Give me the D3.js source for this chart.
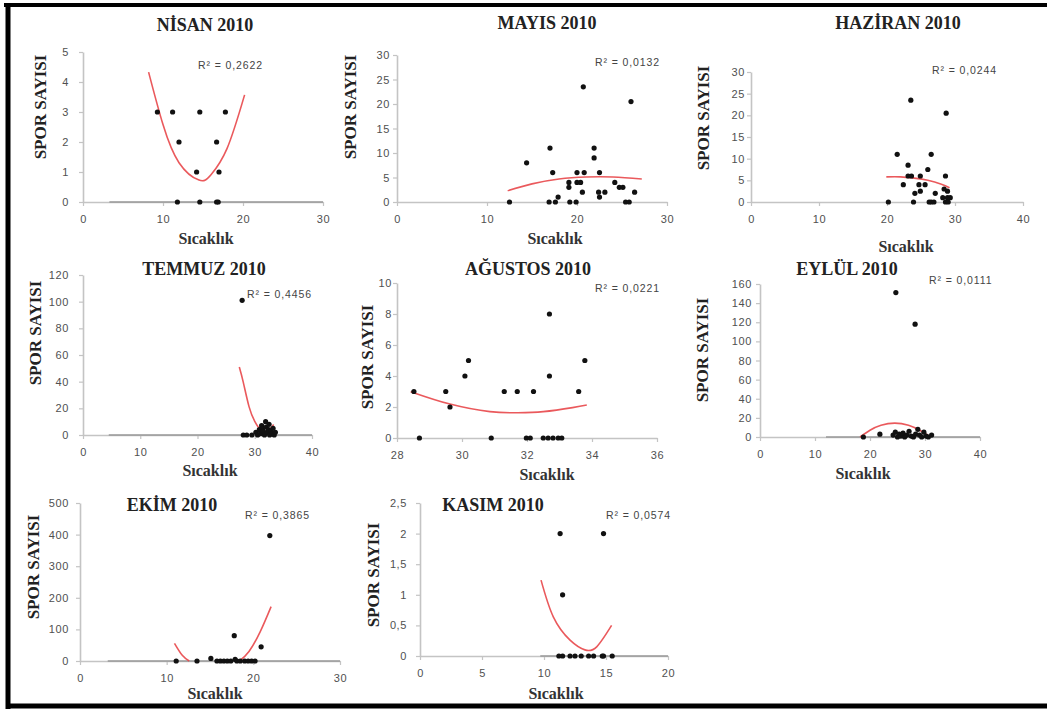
<!DOCTYPE html>
<html>
<head>
<meta charset="utf-8">
<script src="https://cdn.jsdelivr.net/npm/d3@7"></script>
<style>
  body { margin: 0; background: #fff; }
  svg { display: block; }
</style>
</head>
<body>
<svg id="chart" width="1047" height="713"></svg>
<script>
// Monthly scatter plots: spore count vs. temperature, with 2nd-order trend lines.
const months = ["NİSAN 2010", "MAYIS 2010", "HAZİRAN 2010", "TEMMUZ 2010",
                "AĞUSTOS 2010", "EYLÜL 2010", "EKİM 2010", "KASIM 2010"];
const r2Labels = ["R² = 0,2622", "R² = 0,0132", "R² = 0,0244", "R² = 0,4456",
                  "R² = 0,0221", "R² = 0,0111", "R² = 0,3865", "R² = 0,0574"];
const yLabel = "SPOR SAYISI";
const xLabel = "Sıcaklık";

const xTickValues = [
  [0, 10, 20, 30], [0, 10, 20, 30], [0, 10, 20, 30, 40], [0, 10, 20, 30, 40],
  [28, 30, 32, 34, 36], [0, 10, 20, 30, 40], [0, 10, 20, 30], [0, 5, 10, 15, 20]
];
const yTickValues = [
  [0, 1, 2, 3, 4, 5], [0, 5, 10, 15, 20, 25, 30], [0, 5, 10, 15, 20, 25, 30],
  [0, 20, 40, 60, 80, 100, 120], [0, 2, 4, 6, 8, 10],
  [0, 20, 40, 60, 80, 100, 120, 140, 160], [0, 100, 200, 300, 400, 500],
  [0, 0.5, 1, 1.5, 2, 2.5]
];

// [temperature, spore count]
const nisanPoints = [[9.3,3],[11.2,3],[14.6,3],[17.8,3],[12.0,2],[16.7,2],[14.2,1],[17.0,1],
  [11.8,0],[14.6,0],[16.7,0],[16.9,0]];
const mayisPoints = [[12.5,0],[14.4,8],[17.0,11],[17.3,6],[16.9,0],[17.6,0],[17.9,1],[19.1,3],
  [19.1,4],[19.2,0],[19.9,0],[20.0,4],[20.4,4],[20.0,6],[20.8,6],[20.7,23.5],[20.6,2],[21.9,11],
  [21.9,9],[22.5,6],[22.4,2],[23.1,2],[22.5,1],[24.2,4],[24.7,3],[25.1,3],[25.4,0],[25.8,0],
  [26.0,20.5],[26.4,2]];
const haziranPoints = [[20.2,0],[21.5,11],[22.4,4],[23.1,8.5],[23.1,6],[23.6,6],[23.5,23.5],
  [23.9,0],[24.1,2],[24.7,4],[24.9,2.5],[24.9,6],[25.6,4],[26.0,7.5],[26.5,11],[26.2,0],
  [26.5,0],[26.9,0],[27.1,2],[28.6,6],[28.7,20.5],[28.4,3],[28.9,2.5],[28.2,1],[28.9,1],
  [29.3,1],[28.6,0],[29.0,0]];
const temmuzPoints = [[27.8,101],[28.0,0],[28.6,0],[29.5,0],[30.2,2],[30.5,0],[30.8,4],[31.0,1],
  [31.2,7],[31.3,5],[31.5,3],[31.7,0],[31.9,10],[32.0,6],[32.2,2],[32.4,4],[32.5,8],[32.6,0],
  [32.8,3],[33.0,1],[33.2,5],[33.4,0],[33.6,2]];
const agustosPoints = [[28.52,3],[28.69,0],[29.5,3],[29.63,2],[30.09,4],[30.2,5],[30.9,0],[31.3,3],
  [31.7,3],[31.98,0],[32.1,0],[32.2,3],[32.5,0],[32.65,0],[32.69,8],[32.69,4],[32.8,0],
  [32.96,0],[33.07,0],[33.59,3],[33.78,5]];
const eylulPoints = [[18.8,0],[21.8,3],[24.2,2],[24.6,5],[24.7,151],[25.0,0],[25.3,3],[25.6,1],
  [26.0,4],[26.3,0],[26.7,2],[27.1,6],[27.5,1],[27.9,0],[28.2,118],[28.3,3],[28.7,8],[29.0,2],
  [29.4,0],[29.8,5],[30.2,1],[30.6,0],[31.2,2]];
const ekimPoints = [[11.1,0],[13.5,0],[15.1,8],[15.8,0],[16.2,0],[16.6,0],[17.0,0],[17.4,0],
  [17.8,80],[17.9,5],[18.1,0],[18.5,0],[19.0,0],[19.4,0],[19.8,0],[20.2,0],[20.9,45],[21.9,397]];
const kasimPoints = [[11.3,2],[14.8,2],[11.5,1],[11.2,0],[11.5,0],[12.1,0],[12.5,0],[13.0,0],
  [13.6,0],[14.0,0],[14.7,0],[14.8,0],[15.5,0]];

// Trend curves traced along the fitted polynomial (null splits a curve below the axis)
const nisanTrend = [[8.2,4.33],[10,2.58],[12,1.31],[14.5,0.73],[16,0.91],[18,1.78],[20.2,3.57]];
const mayisTrend = [[12.3,2.3],[15,3.7],[18,4.7],[21,5.1],[24,5.1],[27.2,4.7]];
const haziranTrend = [[19.9,5.8],[22,5.8],[24,5.5],[26,5.0],[28,4.1],[29.2,3.3]];
const temmuzTrend = [[27.3,51],[28,39.5],[29,21.3],[30,10.3],[31,4.0],[31.8,2.5],[32.5,3.7],[33.3,7.9]];
const agustosTrend = [[28.42,2.99],[29.63,2.19],[30.86,1.7],[31.68,1.63],[32.5,1.7],[33.4,1.96],[33.84,2.13]];
const eylulTrend = [[18.2,0],[20,7.1],[22,12.2],[24.5,14.5],[27,12.2],[29,7.1],[30.9,0.5]];
const ekimTrend = [[10.9,56],[11.8,18],[12.6,0],null,[18.4,0],[19.5,30],[20.8,93],[22.05,172]];
const kasimTrend = [[9.76,1.24],[10.75,0.64],[12.1,0.26],[13.3,0.1],[14.25,0.15],[15.45,0.5]];

const pointSets = [nisanPoints, mayisPoints, haziranPoints, temmuzPoints,
                   agustosPoints, eylulPoints, ekimPoints, kasimPoints];
const trendSets = [nisanTrend, mayisTrend, haziranTrend, temmuzTrend,
                   agustosTrend, eylulTrend, ekimTrend, kasimTrend];
// Temperature from which the darker baseline segment starts (null: none)
const baselineFrom = [3.3, null, null, 4.5, null, 12, 3.2, 9.7];

// Panel geometry in page pixels
const layout = [
  { x0: 83,  x1: 323,  y0: 202, y1: 52,  ypad: 10, title: [205, 25],  ylab: [40, 107],  xlab: [206, 238], r2: [198, 65] },
  { x0: 397, x1: 667,  y0: 202, y1: 55,  ypad: 3,  title: [547, 23],  ylab: [350, 107], xlab: [555, 238], r2: [595, 62] },
  { x0: 751, x1: 1023, y0: 202, y1: 72,  ypad: 2,  title: [898, 23],  ylab: [703, 118], xlab: [906, 246], r2: [932, 70] },
  { x0: 83,  x1: 312,  y0: 435, y1: 275, ypad: 10, title: [204, 269], ylab: [35, 333],  xlab: [210, 470], r2: [247, 294] },
  { x0: 397, x1: 657,  y0: 438, y1: 283, ypad: 1,  title: [528, 269], ylab: [367, 357], xlab: [547, 474], r2: [595, 288] },
  { x0: 760, x1: 980,  y0: 437, y1: 284, ypad: 4,  title: [847, 269], ylab: [702, 350], xlab: [863, 473], r2: [929, 280] },
  { x0: 80,  x1: 340,  y0: 661, y1: 503, ypad: 7,  title: [172, 505], ylab: [33, 567],  xlab: [215, 693], r2: [245, 515] },
  { x0: 420, x1: 668,  y0: 656, y1: 503, ypad: 9,  title: [493, 505], ylab: [373, 575], xlab: [556, 693], r2: [606, 515] }
];

const svg = d3.select("#chart");
svg.append("rect").attr("width", 1047).attr("height", 713).attr("fill", "#fff");

const serif = "'Liberation Serif', 'Times New Roman', serif";
const sans = "'Liberation Sans', Arial, sans-serif";
const fmt = d => String(d).replace(".", ",");

months.forEach((title, i) => {
  const L = layout[i];
  const xt = xTickValues[i], yt = yTickValues[i];
  const x = d3.scaleLinear().domain([xt[0], xt[xt.length - 1]]).range([L.x0, L.x1]);
  const y = d3.scaleLinear().domain([0, yt[yt.length - 1]]).range([L.y0, L.y1]);
  const g = svg.append("g");

  // axes
  const yAxis = g.append("g").attr("transform", `translate(${L.x0},0)`)
    .call(d3.axisLeft(y).tickValues(yt).tickFormat(fmt).tickSize(4).tickSizeOuter(0).tickPadding(L.ypad));
  const xAxis = g.append("g").attr("transform", `translate(0,${L.y0})`)
    .call(d3.axisBottom(x).tickValues(xt).tickFormat(fmt).tickSize(4).tickSizeOuter(0).tickPadding(9));
  [xAxis, yAxis].forEach(a => {
    a.select(".domain").attr("stroke", "#c4c4c4").attr("stroke-width", 1.6);
    a.selectAll(".tick line").attr("stroke", "#c4c4c4").attr("stroke-width", 1.2);
    a.selectAll(".tick text").attr("fill", "#505050").attr("font-family", sans)
      .attr("font-size", 11).attr("letter-spacing", 0.6);
  });

  if (baselineFrom[i] !== null) {
    g.append("line")
      .attr("x1", x(baselineFrom[i])).attr("x2", L.x1)
      .attr("y1", L.y0).attr("y2", L.y0)
      .attr("stroke", "#9a9a9a").attr("stroke-width", 1.6);
  }

  // trend curve
  const line = d3.line().defined(d => d !== null)
    .x(d => x(d[0])).y(d => y(d[1])).curve(d3.curveNatural);
  g.append("path").datum(trendSets[i]).attr("d", line)
    .attr("fill", "none").attr("stroke", "#e8474a").attr("stroke-width", 1.6)
    .attr("stroke-opacity", 0.9);

  // points
  g.selectAll("circle.pt").data(pointSets[i]).join("circle")
    .attr("class", "pt")
    .attr("cx", d => x(d[0])).attr("cy", d => y(d[1]))
    .attr("r", 2.6).attr("fill", "#111");

  // titles and labels
  g.append("text").attr("x", L.title[0]).attr("y", L.title[1]).attr("dy", "0.35em")
    .attr("text-anchor", "middle").attr("font-family", serif).attr("font-weight", "bold")
    .attr("font-size", 18).attr("fill", "#222").text(title);
  g.append("text")
    .attr("transform", `translate(${L.ylab[0]},${L.ylab[1]}) rotate(-90)`)
    .attr("dy", "0.35em").attr("text-anchor", "middle")
    .attr("font-family", serif).attr("font-weight", "bold").attr("font-size", 17)
    .attr("fill", "#222").text(yLabel);
  g.append("text").attr("x", L.xlab[0]).attr("y", L.xlab[1]).attr("dy", "0.35em")
    .attr("text-anchor", "middle").attr("font-family", serif).attr("font-weight", "bold")
    .attr("font-size", 16).attr("fill", "#333").text(xLabel);
  g.append("text").attr("x", L.r2[0]).attr("y", L.r2[1]).attr("dy", "0.35em")
    .attr("font-family", sans).attr("font-size", 10.5).attr("letter-spacing", 0.9)
    .attr("fill", "#444").text(r2Labels[i]);
});

// frame
svg.append("line").attr("x1", 4).attr("x2", 1047).attr("y1", 5).attr("y2", 5)
  .attr("stroke", "#000").attr("stroke-width", 4);
svg.append("line").attr("x1", 8).attr("x2", 8).attr("y1", 3).attr("y2", 709)
  .attr("stroke", "#000").attr("stroke-width", 5);
svg.append("line").attr("x1", 6).attr("x2", 1047).attr("y1", 706).attr("y2", 706)
  .attr("stroke", "#000").attr("stroke-width", 5);
</script>
</body>
</html>
